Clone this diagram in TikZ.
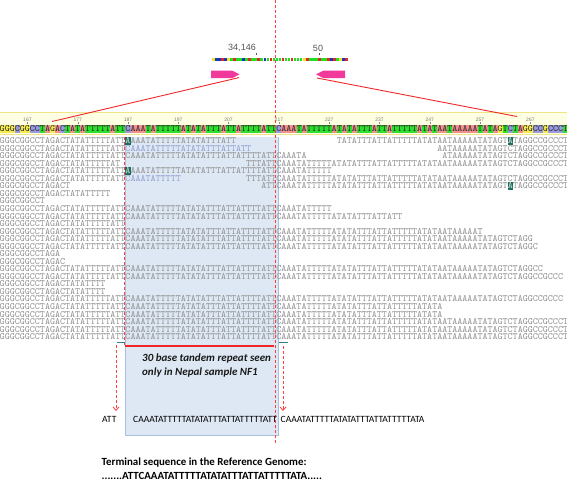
\documentclass[tikz,border=0pt]{standalone}
\usepackage{fontspec}
\setmainfont{Carlito}
\newfontfamily\lsans{Liberation Sans}
\usetikzlibrary{arrows.meta}
\definecolor{seqgray}{HTML}{8E8E8E}
\definecolor{seqblue}{HTML}{8E9CD0}
\definecolor{baseA}{HTML}{F29090}
\definecolor{baseT}{HTML}{2EE02E}
\definecolor{baseG}{HTML}{F6EC50}
\definecolor{baseC}{HTML}{9A9AE0}
\definecolor{barA}{HTML}{E02828}
\definecolor{barT}{HTML}{22DD22}
\definecolor{barG}{HTML}{F2E030}
\definecolor{barC}{HTML}{1838B8}
\definecolor{boxfill}{HTML}{DEE8F4}
\definecolor{boxline}{HTML}{A8C0DE}
\definecolor{redline}{HTML}{F02828}
\definecolor{reddash}{HTML}{FF4040}
\definecolor{pinkarr}{HTML}{F2399C}
\definecolor{tealmk}{HTML}{2F7F8A}
\definecolor{mismfill}{HTML}{1F6B5E}
\definecolor{mismtxt}{HTML}{D0ECE6}
\definecolor{rulerbg}{HTML}{FFFFE4}
\definecolor{rulerln}{HTML}{EEE48A}
\definecolor{labgray}{HTML}{555555}

\def\seqLR{AGGGCGGCCTAGACTATATTTTTATTCAAATATTTTTATATATTTATTATTTTATT}
\def\seqS{CAAATATTTTTATATATTTATTATTTTTATATAATAAAAATATAGTCTAGGCCGCCCT}

% read segment: [colour]{row}{start position}{text}
\newcommand\rseg[4][seqgray]{\node[seqtxt,text=#1] at ({125.485+(#3-187)*5.03},{143.6+(#2-1)*7.54}) {#4};}
% mismatch cell: {row}{position}
\newcommand\mism[2]{\fill[mismfill] ({125.485+(#2-187)*5.03},{143.6+(#1-1)*7.54-6.4}) rectangle ++(5.03,7.3);
  \node[seqtxt,text=mismtxt] at ({125.485+(#2-187)*5.03},{143.6+(#1-1)*7.54}) {A};}

\newcount\rpos
\newcommand\rulercell[1]{\fill[base#1] ({125.485+(\the\rpos-187)*5.03},124.6) rectangle ++(5.03,8.6);
  \node[rultxt] at ({125.485+(\the\rpos-187)*5.03},131.7) {#1};}
\def\rulercells#1{\rpos=160\relax\rulerloop#1\relax}
\def\rulerloop#1{\ifx#1\relax\else\advance\rpos by 1\relax\rulercell{#1}\expandafter\rulerloop\fi}

\newcount\bpos
\newcommand\barcell[1]{\fill[bar#1] ({212+\the\bpos*3.03},57.6) rectangle ++(2.6,3.4);}
\def\barcells#1{\bpos=0\relax\barloop#1\relax}
\def\barloop#1{\ifx#1\relax\else\barcell{#1}\advance\bpos by 1\relax\expandafter\barloop\fi}

\begin{document}
\begin{tikzpicture}[x=1pt,y=-1pt,
  seqtxt/.style={anchor=base west,inner sep=0pt,outer sep=0pt,font=\fontsize{9.58}{9.58}\selectfont\ttfamily},
  rultxt/.style={anchor=base west,inner sep=0pt,outer sep=0pt,text=black!85,font=\fontsize{9.58}{9.58}\selectfont\ttfamily},
  ticklab/.style={inner sep=0pt,text=labgray!80,font=\lsans\fontsize{5}{5}\selectfont},
  toplab/.style={inner sep=0pt,text=labgray,font=\lsans\fontsize{9}{9}\selectfont},
  reddashed/.style={draw=reddash,line width=1.2pt,dash pattern=on 3pt off 2pt},
  redsolid/.style={draw=redline,line width=1pt},
  dasharrow/.style={draw=reddash,line width=0.8pt,dash pattern=on 3pt off 2pt,-{Straight Barb[length=3.5pt,width=6pt]}},
  bigseq/.style={anchor=west,inner sep=0pt,text=black,font=\fontsize{9.55}{10}\selectfont},
  note/.style={anchor=west,inner sep=0pt,text=black!90,font=\fontsize{11}{12}\selectfont\bfseries\itshape},
  term/.style={anchor=west,inner sep=0pt,text=black,font=\fontsize{10.9}{12}\selectfont\bfseries}]
\useasboundingbox (0,0) rectangle (567,483);
\fill[white] (0,0) rectangle (567,483);

% ---- top: genome overview bar ----
\barcells{GCCACGTATTCTATTATCTATTTATTATTTGATTTATTACATGCA}
\node[toplab] (lab34) at (242,48) {34,146};
\node[toplab] (lab50) at (318,48) {50};
\draw[labgray,line width=0.5pt] (256.5,53) -- (256.5,55);
\draw[labgray,line width=0.5pt] (319,53) -- (319,55);
\fill[pinkarr] (211,70.5) -- (232,70.5) -- (239.5,74.3) -- (232,78.2) -- (211,78.2) -- cycle;
\fill[pinkarr] (345,70.5) -- (323.5,70.5) -- (316,74.3) -- (323.5,78.2) -- (345,78.2) -- cycle;
\coordinate (pl) at (239,77.6);
\coordinate (pr) at (317,78);
\coordinate (rl) at (52,121.5);
\coordinate (rr) at (517,116.5);

% ---- ruler band ----
\fill[rulerbg] (0,112.5) rectangle (567,134.8);
\draw[rulerln,line width=1.2pt] (0,112.5) -- (567,112.5);
\draw[rulerln,line width=0.8pt] (0,134.8) -- (567,134.8);
\foreach \p in {167,177,...,267}{
  \node[ticklab] (t\p) at ({128+(\p-187)*5.03},119.3) {\p};
  \draw[labgray!70,line width=0.4pt] ({128+(\p-187)*5.03},122.3) -- ({128+(\p-187)*5.03},124.3);
}
\rulercells{AGGGCGGCCTAGACTATATTTTTATTCAAATATTTTTATATATTTATTATTTTATTCAAATATTTTTATATATTTATTATTTTTATATAATAAAAATATAGTCTAGGCCGCCCT}
\draw[redsolid,line width=0.9pt] (pl) -- (rl);
\draw[redsolid,line width=0.9pt] (pr) -- (rr);

% ---- highlighted repeat box ----
\fill[boxfill] (125,136.5) rectangle (278,435);
\draw[boxline,line width=0.6pt] (125,136.5) -- (125,435) -- (278,435) -- (278,136.5);

% ---- reads ----
\rseg{1}{161}{AGGGCGGCCTAGACTATATTTTTATT}
\mism{1}{187}
\rseg{1}{188}{AAATATTTTTATATATTTATT}
\rseg{1}{229}{TATATTTATTATTTTTATATAATAAAAATATAGT}
\mism{1}{263}
\rseg{1}{264}{TAGGCCGCCCT}

\rseg{2}{161}{AGGGCGGCCTAGACTATATTTTTATT}
\rseg[seqblue]{2}{187}{CAAATATTTTTATATATTTATTATT}
\rseg{2}{249}{AATAAAAATATAGTCTAGGCCGCCCT}

\rseg{3}{161}{\seqLR CAAATA}
\rseg{3}{250}{ATAAAAATATAGTCTAGGCCGCCCT}

\rseg{4}{161}{AGGGCGGCCTAGACTATATTTTTAT}
\rseg{4}{211}{TTTATT\seqS}

\rseg{5}{161}{AGGGCGGCCTAGACTATATTTTTATT}
\mism{5}{187}
\rseg{5}{188}{AAATATTTTTATATATTTATTATTTTATTCAAATATTTTT}

\rseg{6}{161}{AGGGCGGCCTAGACTATATTTTTATT}
\rseg[seqblue]{6}{187}{CAAATATTTTT}
\rseg{6}{211}{TTTATT\seqS}

\rseg{7}{161}{AGGGCGGCCTAGACT}
\rseg{7}{214}{ATTCAAATATTTTTATATATTTATTATTTTTATATAATAAAAATATAGT}
\mism{7}{263}
\rseg{7}{264}{TAGGCCGCCCT}

\rseg{8}{161}{AGGGCGGCCTAGACTATATTTTT}
\rseg{9}{161}{AGGGCGGCCT}
\rseg{10}{161}{\seqLR CAAATATTTTT}
\rseg{11}{161}{\seqLR CAAATATTTTTATATATTTATTATT}
\rseg{12}{161}{AGGGCGGCCTAGACTATATTTTTATT}
\rseg{13}{161}{\seqLR CAAATATTTTTATATATTTATTATTTTTATATAATAAAAAT}
\rseg{14}{161}{\seqLR CAAATATTTTTATATATTTATTATTTTTATATAATAAAAATATAGTCTAGG}
\rseg{15}{161}{\seqLR CAAATATTTTTATATATTTATTATTTTTATATAATAAAAATATAGTCTAGGC}
\rseg{16}{161}{AGGGCGGCCTAGA}
\rseg{17}{161}{AGGGCGGCCTAGAC}
\rseg{18}{161}{\seqLR CAAATATTTTTATATATTTATTATTTTTATATAATAAAAATATAGTCTAGGCC}
\rseg{19}{161}{\seqLR CAAATATTTTTATATATTTATTATTTTTATATAATAAAAATATAGTCTAGGCCGCCC}
\rseg{20}{161}{AGGGCGGCCTAGACTATATTTT}
\rseg{21}{161}{AGGGCGGCCTAGACTATATTTT}
\rseg{22}{161}{\seqLR CAAATATTTTTATATATTTATTATTTTTATATAATAAAAATATAGTCTAGGCCGCCC}
\rseg{23}{161}{\seqLR CAAATATTTTTATATATTTATTATTTTTATATA}
\rseg{24}{161}{\seqLR CAAATATTTTTATATATTTATTATTTTTATATA}
\rseg{25}{161}{\seqLR\seqS}
\rseg{26}{161}{\seqLR\seqS}
\rseg{27}{161}{\seqLR\seqS}

% ---- red dashed guides ----
\coordinate (dl1) at (124.5,136.5);
\coordinate (dl2) at (124.5,346);
\coordinate (dr1) at (275.5,0);
\coordinate (dr2) at (275.5,443);
\path[reddashed] (dl1) -- (dl2);
\path[reddashed] (dr1) -- (dr2);

% ---- repeat bracket and markers ----
\coordinate (hb1) at (125,346);
\coordinate (hb2) at (274,346);
\draw[redsolid,line width=1.3pt] (hb1) -- (hb2);
\coordinate (tm1) at (117,342.3);
\coordinate (tm2) at (124.5,342.3);
\coordinate (tm3) at (278.5,342.3);
\coordinate (tm4) at (288,342.3);
\draw[tealmk,line width=1.1pt] (tm1) -- (tm2);
\draw[tealmk,line width=1.1pt] (tm3) -- (tm4);

\node[note] (note1) at (142,358.5) {30 base tandem repeat seen};
\node[note] (note2) at (142,372.5) {only in Nepal sample NF1};

% ---- split sequence row ----
\node[bigseq] (sATT) at (102,419) {ATT};
\node[bigseq] (sRep) at (133,419) {CAAATATTTTTATATATTTATTATTTTTATT};
\node[bigseq] (sRef) at (280.5,419) {CAAATATTTTTATATATTTATTATTTTTATA};
\coordinate (al1) at (116,345);
\coordinate (al2) at (116,411);
\coordinate (ar1) at (283,346);
\coordinate (ar2) at (283,411);
\draw[dasharrow] (al1) -- (al2);
\draw[dasharrow] (ar1) -- (ar2);

% ---- bottom text ----
\node[term] (term1) at (101.5,462.5) {Terminal sequence in the Reference Genome:};
\node[term] (term2) at (101.5,475.5) {.......ATTCAAATATTTTTATATATTTATTATTTTTATA.....};
\end{tikzpicture}
\end{document}
